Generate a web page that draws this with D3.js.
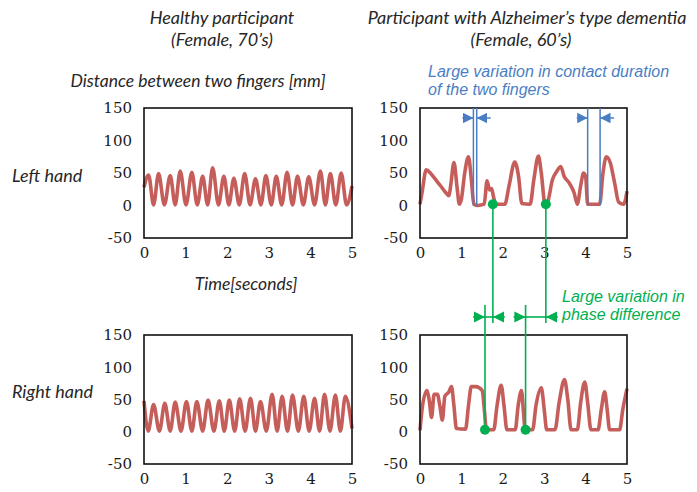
<!DOCTYPE html>
<html><head><meta charset="utf-8">
<script src="https://cdn.jsdelivr.net/npm/d3@7"></script>
<style>
body{margin:0;background:#fff;}
svg{display:block;}
</style></head>
<body><svg id="chart" width="697" height="492"></svg>
<script>
// ---- data (time in seconds, distance in mm) ----
const healthyLeft = [[0,28],[0.11,47],[0.23,1],[0.35,49],[0.49,1],[0.63,46],[0.75,1],[0.87,53],[1.01,1],[1.15,51],[1.28,1],[1.41,45],[1.53,1],[1.65,58],[1.79,1],[1.92,45],[2.04,1],[2.16,42],[2.29,1],[2.42,49],[2.55,1],[2.68,41],[2.81,1],[2.93,46],[3.06,1],[3.18,45],[3.31,1],[3.44,51],[3.57,1],[3.69,45],[3.83,1],[3.96,44],[4.1,1],[4.24,53],[4.36,1],[4.48,49],[4.61,1],[4.74,50],[4.87,1],[5.0,30]];
const healthyRight = [[0,48],[0.1,1],[0.23,42],[0.37,1],[0.5,44],[0.63,1],[0.75,46],[0.89,1],[1.02,47],[1.15,1],[1.27,47],[1.41,1],[1.54,49],[1.68,1],[1.81,48],[1.93,1],[2.05,49],[2.18,1],[2.3,51],[2.43,1],[2.56,52],[2.68,1],[2.8,47],[2.94,1],[3.08,58],[3.2,1],[3.32,55],[3.45,1],[3.57,57],[3.71,1],[3.84,55],[3.97,1],[4.1,52],[4.22,1],[4.34,58],[4.47,1],[4.6,57],[4.72,1],[4.84,55],[5.0,5]];
const dementiaLeft = [[0,2],[0.05,20],[0.15,55],[0.25,50],[0.35,42],[0.5,30],[0.62,20],[0.7,15],[0.74,30],[0.82,66],[0.9,25],[0.95,2],[1.0,10],[1.08,50],[1.17,75],[1.24,40],[1.3,2],[1.4,0],[1.55,2],[1.62,38],[1.68,24],[1.73,26],[1.77,15],[1.83,2],[2.05,2],[2.15,30],[2.29,67],[2.38,45],[2.46,3],[2.66,2],[2.75,40],[2.86,76],[2.93,50],[3.02,2],[3.08,5],[3.2,40],[3.3,52],[3.4,60],[3.48,45],[3.6,35],[3.72,20],[3.8,2],[3.88,30],[3.95,50],[4.0,45],[4.05,2],[4.34,2],[4.42,50],[4.5,75],[4.6,65],[4.7,35],[4.8,5],[4.92,2],[5.0,22]];
const dementiaRight = [[0,2],[0.06,40],[0.17,64],[0.22,50],[0.28,22],[0.34,58],[0.42,58],[0.48,40],[0.54,18],[0.6,55],[0.7,62],[0.76,70],[0.82,40],[0.88,5],[1.1,4],[1.17,40],[1.24,70],[1.35,70],[1.5,64],[1.56,30],[1.6,3],[1.78,3],[1.86,40],[1.96,72],[2.03,40],[2.1,3],[2.3,3],[2.37,40],[2.45,64],[2.5,30],[2.54,3],[2.72,3],[2.8,40],[2.93,68],[3.0,35],[3.06,3],[3.26,3],[3.36,45],[3.49,81],[3.57,50],[3.65,3],[3.8,3],[3.88,45],[3.98,77],[4.05,45],[4.13,3],[4.3,3],[4.38,35],[4.46,62],[4.52,35],[4.58,3],[4.82,3],[4.9,35],[5.0,67]];

const yTicks = [-50, 0, 50, 100, 150];
const xTicks = [0, 1, 2, 3, 4, 5];

// annotation times (s)
const contactMarks = [[1.29, 1.37], [4.05, 4.35]];        // blue brackets, top-right panel
const phaseTop = [1.76, 3.04];                              // green dots, top-right panel
const phaseBottom = [1.57, 2.55];                           // green dots, bottom-right panel

const titles = [["Healthy participant", "(Female, 70’s)"], ["Participant with Alzheimer’s type dementia", "(Female, 60’s)"]];
const rowLabels = ["Left hand", "Right hand"];
const contactNote = ["Large variation in contact duration", "of the two fingers"];
const phaseNote = ["Large variation in", "phase difference"];

// ---- layout ----
const svg = d3.select("#chart");
const colX = [[144, 352], [420, 627]];
const rowY = [[108, 238], [335, 464]];
const RED = "#C0504D", BLUE = "#4A7EC4", GREEN = "#00B050";
const labelFont = "Lato, 'Open Sans', sans-serif";
const noteFont = "'Liberation Sans', Arial, sans-serif";
const tickFont = "'DejaVu Serif', serif";

const defs = svg.append("defs");
const mk = (id, color) => defs.append("marker").attr("id", id)
  .attr("viewBox", "0 0 10 10").attr("refX", 10).attr("refY", 5)
  .attr("markerWidth", 7).attr("markerHeight", 7).attr("orient", "auto")
  .append("path").attr("d", "M0,0 L10,5 L0,10 z").attr("fill", color);
mk("ab", BLUE); mk("ag", GREEN);

const panels = [
  {c:0, r:0, data: healthyLeft},
  {c:1, r:0, data: dementiaLeft},
  {c:0, r:1, data: healthyRight},
  {c:1, r:1, data: dementiaRight}
];
const scales = {};
panels.forEach(p => {
  const x = d3.scaleLinear().domain([0, 5]).range(colX[p.c]);
  const y = d3.scaleLinear().domain([-50, 150]).range([rowY[p.r][1], rowY[p.r][0]]);
  scales[p.c + "" + p.r] = {x, y};
  const g = svg.append("g");
  g.append("g").attr("transform", `translate(${colX[p.c][0]},0)`)
    .call(d3.axisLeft(y).tickValues(yTicks).tickFormat(d => String(d)).tickSize(0).tickPadding(12))
    .call(a => a.select(".domain").remove())
    .selectAll("text").style("font-family", tickFont).style("font-size", "15px").attr("fill", "#1a1a1a");
  g.append("g").attr("transform", `translate(0,${rowY[p.r][1]})`)
    .call(d3.axisBottom(x).tickValues(xTicks).tickFormat(d => String(d)).tickSize(0).tickPadding(9))
    .call(a => a.select(".domain").remove())
    .selectAll("text").style("font-family", tickFont).style("font-size", "15px").attr("fill", "#1a1a1a");
  const line = d3.line().x(d => x(d[0])).y(d => y(d[1])).curve(d3.curveMonotoneX);
  g.append("path").attr("d", line(p.data)).attr("fill", "none")
    .attr("stroke", RED).attr("stroke-width", 3.6).attr("stroke-linejoin", "round").attr("opacity", 0.92);
  g.append("rect").attr("x", colX[p.c][0]).attr("y", rowY[p.r][0])
    .attr("width", colX[p.c][1] - colX[p.c][0]).attr("height", rowY[p.r][1] - rowY[p.r][0])
    .attr("fill", "none").attr("stroke", "#111").attr("stroke-width", 1.6);
});

// ---- annotations ----
const sT = scales["10"], sB = scales["11"];
const blueY = rowY[0][0] + 10;
contactMarks.forEach(([a, b]) => {
  const xa = sT.x(a), xb = sT.x(b);
  [xa, xb].forEach(xx => svg.append("line").attr("x1", xx).attr("x2", xx)
    .attr("y1", rowY[0][0]).attr("y2", sT.y(0)).attr("stroke", BLUE).attr("stroke-width", 1.5));
  svg.append("line").attr("x1", xa - 11).attr("x2", xa).attr("y1", blueY).attr("y2", blueY)
    .attr("stroke", BLUE).attr("stroke-width", 1.5).attr("marker-end", "url(#ab)");
  svg.append("line").attr("x1", xb + 14).attr("x2", xb).attr("y1", blueY).attr("y2", blueY)
    .attr("stroke", BLUE).attr("stroke-width", 1.5).attr("marker-end", "url(#ab)");
});

const arrowY = 317;
phaseTop.forEach((tt, i) => {
  const xt = sT.x(tt), xb = sB.x(phaseBottom[i]);
  svg.append("line").attr("x1", xt).attr("x2", xt).attr("y1", sT.y(2)).attr("y2", arrowY + 6)
    .attr("stroke", GREEN).attr("stroke-width", 1.6);
  svg.append("line").attr("x1", xb).attr("x2", xb).attr("y1", arrowY - 12).attr("y2", sB.y(3))
    .attr("stroke", GREEN).attr("stroke-width", 1.6);
  svg.append("line").attr("x1", xb - 12).attr("x2", xb).attr("y1", arrowY).attr("y2", arrowY)
    .attr("stroke", GREEN).attr("stroke-width", 1.6).attr("marker-end", "url(#ag)");
  svg.append("line").attr("x1", xt + 12).attr("x2", xt).attr("y1", arrowY).attr("y2", arrowY)
    .attr("stroke", GREEN).attr("stroke-width", 1.6).attr("marker-end", "url(#ag)");
  svg.append("line").attr("x1", xb).attr("x2", xt).attr("y1", arrowY).attr("y2", arrowY)
    .attr("stroke", GREEN).attr("stroke-width", 1.6);
  svg.append("circle").attr("cx", xt).attr("cy", sT.y(2)).attr("r", 5).attr("fill", GREEN);
  svg.append("circle").attr("cx", xb).attr("cy", sB.y(3)).attr("r", 5).attr("fill", GREEN);
});

// ---- texts ----
const txt = (s, x, y, opts = {}) => svg.append("text").text(s).attr("x", x).attr("y", y)
  .style("font-family", opts.font || labelFont).style("font-size", (opts.size || 18) + "px").style("font-style", "italic")
  .attr("fill", opts.color || "#262626").attr("text-anchor", opts.anchor || "start");
txt(titles[0][0], 222, 24, {anchor: "middle"});
txt(titles[0][1], 222, 46, {anchor: "middle"});
txt(titles[1][0], 527, 24, {anchor: "middle"});
txt(titles[1][1], 521, 46, {anchor: "middle"});
txt("Distance between two fingers [mm]", 198, 87, {anchor: "middle", size: 17.5});
txt(contactNote[0], 428, 77, {color: BLUE, size: 16, font: noteFont});
txt(contactNote[1], 428, 95, {color: BLUE, size: 16, font: noteFont});
txt(rowLabels[0], 12, 182);
txt(rowLabels[1], 12, 398);
txt("Time[seconds]", 246, 290, {anchor: "middle", size: 17.5});
txt(phaseNote[0], 562, 302, {color: GREEN, size: 16, font: noteFont});
txt(phaseNote[1], 562, 320, {color: GREEN, size: 16, font: noteFont});
</script></body></html>
